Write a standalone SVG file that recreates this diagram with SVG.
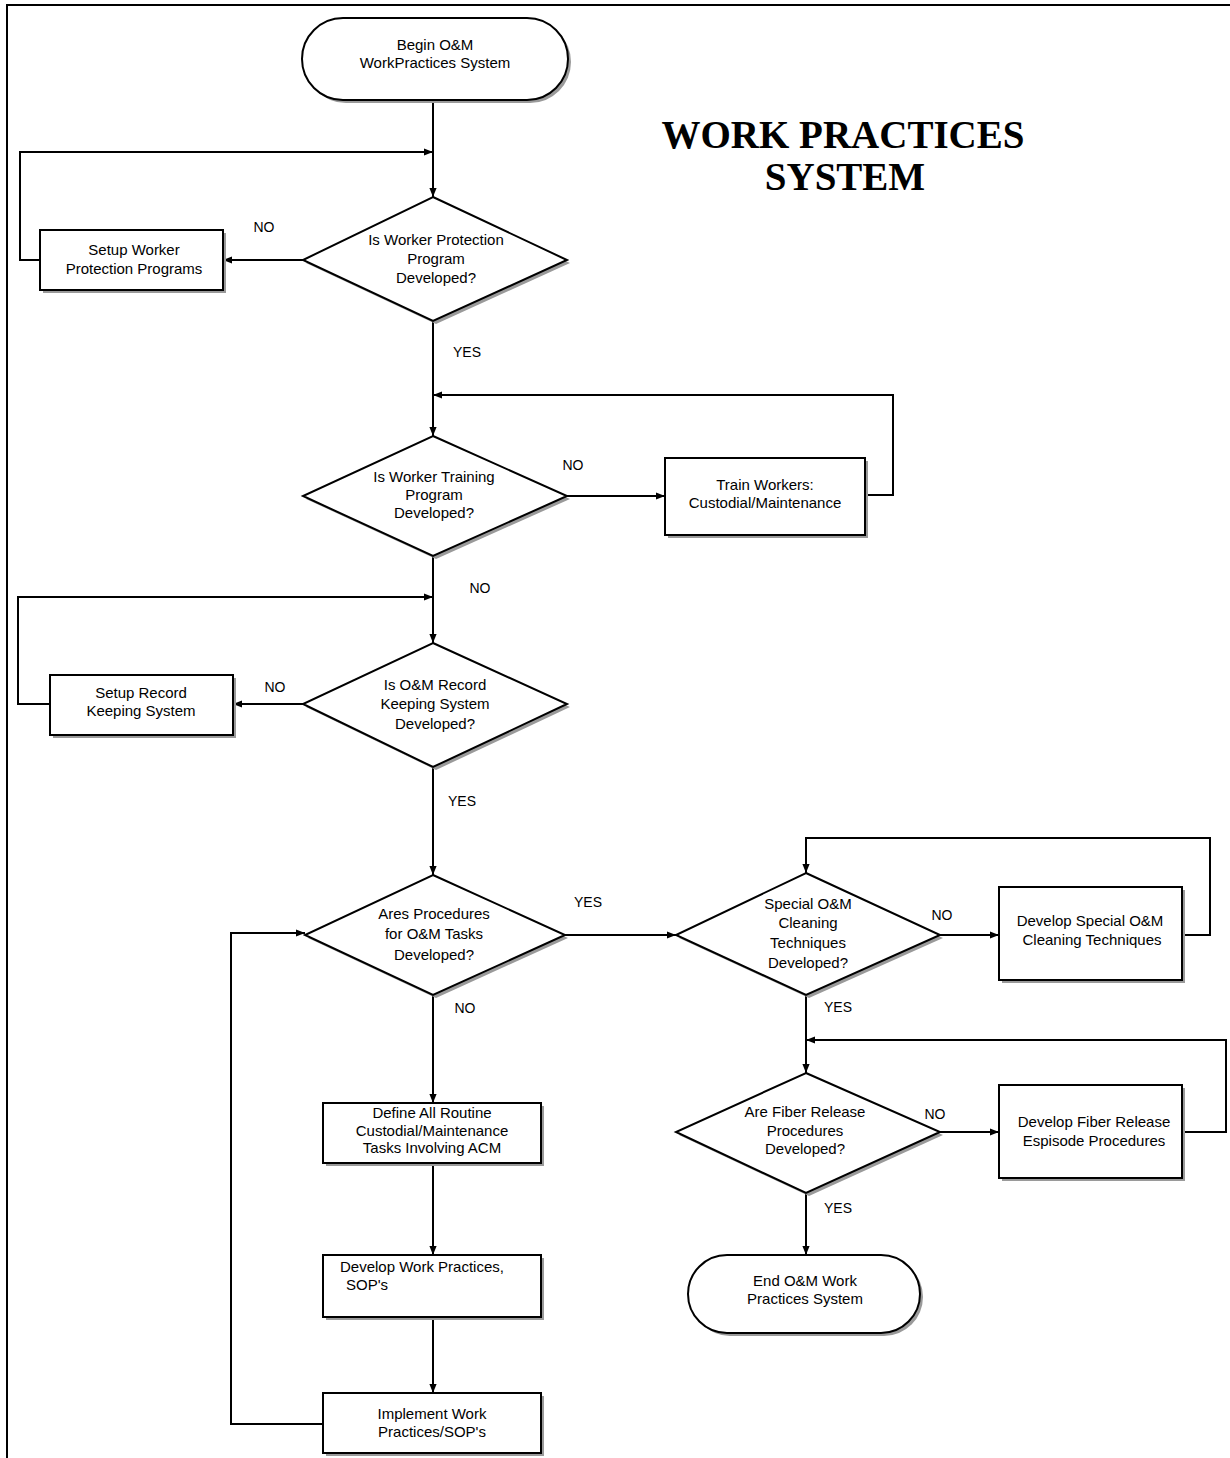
<svg xmlns="http://www.w3.org/2000/svg" width="1230" height="1458" viewBox="0 0 1230 1458">
<style>
.bg{fill:#fff}
.frame{fill:none;stroke:#000;stroke-width:2}
.shape{fill:#fff;stroke:#000;stroke-width:2}
.shadow{fill:#9a9a9a}
.conn{fill:none;stroke:#000;stroke-width:2}
.t{font-family:"Liberation Sans",Arial,sans-serif;font-size:15px;fill:#000;text-anchor:middle}
.tl{font-family:"Liberation Sans",Arial,sans-serif;font-size:15px;fill:#000;text-anchor:start}
.lbl{font-family:"Liberation Sans",Arial,sans-serif;font-size:14px;fill:#000;text-anchor:middle}
.title{font-family:"Liberation Serif","Times New Roman",serif;font-size:39px;font-weight:bold;fill:#000;text-anchor:middle}
</style>
<defs>
<marker id="arr" viewBox="0 0 10 10" refX="10" refY="5" markerWidth="9" markerHeight="9" markerUnits="userSpaceOnUse" orient="auto">
<path d="M0,1 L10,5 L0,9 z" fill="#000"/>
</marker>
</defs>
<rect class="bg" x="0" y="0" width="1230" height="1458"/>
<path class="frame" d="M7,1458 V5 H1230"/>

<g id="title">
<text class="title" x="843" y="148">WORK PRACTICES</text>
<text class="title" x="845" y="190">SYSTEM</text>
</g>

<g id="connectors">
<path class="conn" d="M433,100 V197" marker-end="url(#arr)"/>
<path class="conn" d="M40,260 H20 V152 H433" marker-end="url(#arr)"/>
<path class="conn" d="M303,260 H223" marker-end="url(#arr)"/>
<path class="conn" d="M433,321 V436" marker-end="url(#arr)"/>
<path class="conn" d="M567,496 H665" marker-end="url(#arr)"/>
<path class="conn" d="M865,495 H893 V395 H433" marker-end="url(#arr)"/>
<path class="conn" d="M433,556 V643" marker-end="url(#arr)"/>
<path class="conn" d="M50,704 H18 V597 H433" marker-end="url(#arr)"/>
<path class="conn" d="M303,704 H233" marker-end="url(#arr)"/>
<path class="conn" d="M433,767 V875" marker-end="url(#arr)"/>
<path class="conn" d="M565,935 H676" marker-end="url(#arr)"/>
<path class="conn" d="M940,935 H999" marker-end="url(#arr)"/>
<path class="conn" d="M1182,935 H1210 V838 H806 V873" marker-end="url(#arr)"/>
<path class="conn" d="M806,995 V1073" marker-end="url(#arr)"/>
<path class="conn" d="M1182,1132 H1226 V1040 H806" marker-end="url(#arr)"/>
<path class="conn" d="M940,1132 H999" marker-end="url(#arr)"/>
<path class="conn" d="M806,1193 V1255" marker-end="url(#arr)"/>
<path class="conn" d="M433,995 V1103" marker-end="url(#arr)"/>
<path class="conn" d="M433,1163 V1255" marker-end="url(#arr)"/>
<path class="conn" d="M433,1317 V1393" marker-end="url(#arr)"/>
<path class="conn" d="M323,1424 H231 V933 H305" marker-end="url(#arr)"/>
</g>

<g id="edge-labels">
<text class="lbl" x="264" y="232">NO</text>
<text class="lbl" x="467" y="357">YES</text>
<text class="lbl" x="573" y="470">NO</text>
<text class="lbl" x="480" y="593">NO</text>
<text class="lbl" x="275" y="692">NO</text>
<text class="lbl" x="462" y="806">YES</text>
<text class="lbl" x="588" y="907">YES</text>
<text class="lbl" x="942" y="920">NO</text>
<text class="lbl" x="465" y="1013">NO</text>
<text class="lbl" x="838" y="1012">YES</text>
<text class="lbl" x="935" y="1119">NO</text>
<text class="lbl" x="838" y="1213">YES</text>
</g>

<g id="begin">
<rect class="shadow" x="305" y="21" width="266" height="82" rx="41"/>
<rect class="shape" x="302" y="18" width="266" height="82" rx="41"/>
<text class="t" x="435" y="50">Begin O&amp;M</text>
<text class="t" x="435" y="68">WorkPractices System</text>
</g>

<g id="d1">
<polygon class="shadow" points="436,200 570,263 436,324 306,263"/>
<polygon class="shape" points="433,197 567,260 433,321 303,260"/>
<text class="t" x="436" y="245">Is Worker Protection</text>
<text class="t" x="436" y="264">Program</text>
<text class="t" x="436" y="283">Developed?</text>
</g>

<g id="setup-worker">
<rect class="shadow" x="43" y="233" width="183" height="60"/>
<rect class="shape" x="40" y="230" width="183" height="60"/>
<text class="t" x="134" y="255">Setup Worker</text>
<text class="t" x="134" y="274">Protection Programs</text>
</g>

<g id="d2">
<polygon class="shadow" points="436,439 570,499 436,559 306,499"/>
<polygon class="shape" points="433,436 567,496 433,556 303,496"/>
<text class="t" x="434" y="482">Is Worker Training</text>
<text class="t" x="434" y="500">Program</text>
<text class="t" x="434" y="518">Developed?</text>
</g>

<g id="train">
<rect class="shadow" x="668" y="461" width="200" height="77"/>
<rect class="shape" x="665" y="458" width="200" height="77"/>
<text class="t" x="765" y="490">Train Workers:</text>
<text class="t" x="765" y="508">Custodial/Maintenance</text>
</g>

<g id="d3">
<polygon class="shadow" points="436,646 570,707 436,770 306,707"/>
<polygon class="shape" points="433,643 567,704 433,767 303,704"/>
<text class="t" x="435" y="690">Is O&amp;M Record</text>
<text class="t" x="435" y="709">Keeping System</text>
<text class="t" x="435" y="729">Developed?</text>
</g>

<g id="setup-record">
<rect class="shadow" x="53" y="678" width="183" height="60"/>
<rect class="shape" x="50" y="675" width="183" height="60"/>
<text class="t" x="141" y="698">Setup Record</text>
<text class="t" x="141" y="716">Keeping System</text>
</g>

<g id="d4">
<polygon class="shadow" points="436,878 568,938 436,998 308,938"/>
<polygon class="shape" points="433,875 565,935 433,995 305,935"/>
<text class="t" x="434" y="919">Ares Procedures</text>
<text class="t" x="434" y="939">for O&amp;M Tasks</text>
<text class="t" x="434" y="960">Developed?</text>
</g>

<g id="d5">
<polygon class="shadow" points="809,876 943,938 809,998 679,938"/>
<polygon class="shape" points="806,873 940,935 806,995 676,935"/>
<text class="t" x="808" y="909">Special O&amp;M</text>
<text class="t" x="808" y="928">Cleaning</text>
<text class="t" x="808" y="948">Techniques</text>
<text class="t" x="808" y="968">Developed?</text>
</g>

<g id="special">
<rect class="shadow" x="1002" y="890" width="183" height="93"/>
<rect class="shape" x="999" y="887" width="183" height="93"/>
<text class="t" x="1090" y="926">Develop Special O&amp;M</text>
<text class="t" x="1092" y="945">Cleaning Techniques</text>
</g>

<g id="d6">
<polygon class="shadow" points="809,1076 943,1135 809,1196 679,1135"/>
<polygon class="shape" points="806,1073 940,1132 806,1193 676,1132"/>
<text class="t" x="805" y="1117">Are Fiber Release</text>
<text class="t" x="805" y="1136">Procedures</text>
<text class="t" x="805" y="1154">Developed?</text>
</g>

<g id="fiber">
<rect class="shadow" x="1002" y="1088" width="183" height="93"/>
<rect class="shape" x="999" y="1085" width="183" height="93"/>
<text class="t" x="1094" y="1127">Develop Fiber Release</text>
<text class="t" x="1094" y="1146">Espisode Procedures</text>
</g>

<g id="end">
<rect class="shadow" x="691" y="1258" width="232" height="78" rx="39"/>
<rect class="shape" x="688" y="1255" width="232" height="78" rx="39"/>
<text class="t" x="805" y="1286">End O&amp;M Work</text>
<text class="t" x="805" y="1304">Practices System</text>
</g>

<g id="define">
<rect class="shadow" x="326" y="1106" width="218" height="60"/>
<rect class="shape" x="323" y="1103" width="218" height="60"/>
<text class="t" x="432" y="1118">Define All Routine</text>
<text class="t" x="432" y="1136">Custodial/Maintenance</text>
<text class="t" x="432" y="1153">Tasks Involving ACM</text>
</g>

<g id="develop-wp">
<rect class="shadow" x="326" y="1258" width="218" height="62"/>
<rect class="shape" x="323" y="1255" width="218" height="62"/>
<text class="tl" x="340" y="1272">Develop Work Practices,</text>
<text class="tl" x="346" y="1290">SOP's</text>
</g>

<g id="implement">
<rect class="shadow" x="326" y="1396" width="218" height="60"/>
<rect class="shape" x="323" y="1393" width="218" height="60"/>
<text class="t" x="432" y="1419">Implement Work</text>
<text class="t" x="432" y="1437">Practices/SOP's</text>
</g>
</svg>
